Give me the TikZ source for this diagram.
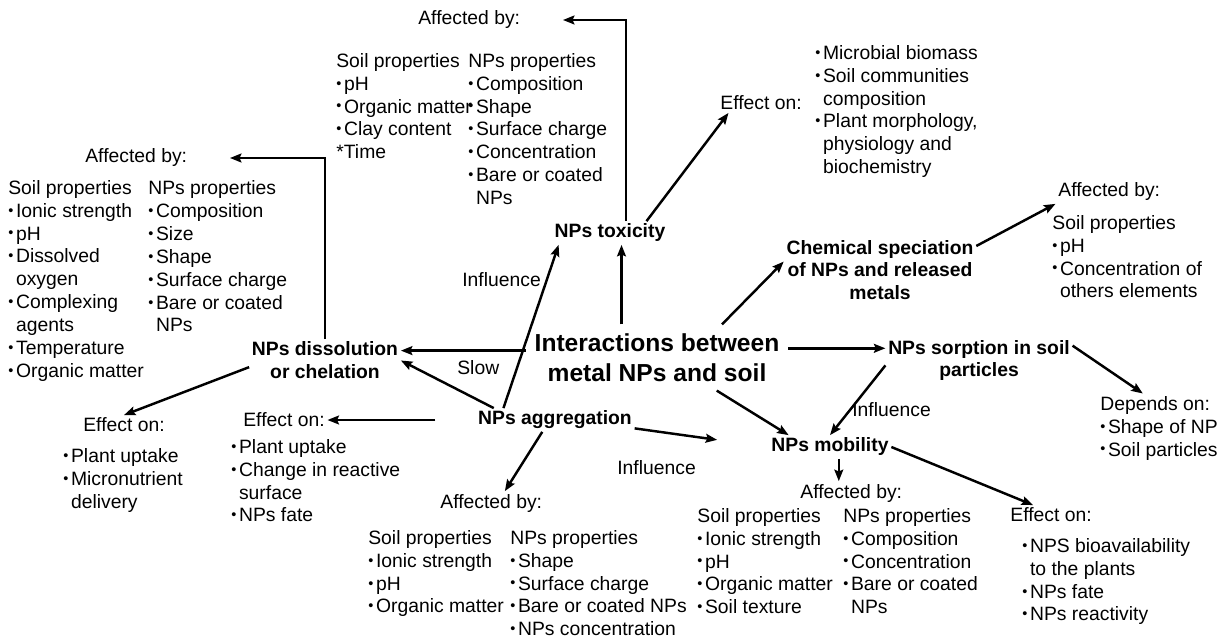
\documentclass[tikz,border=0pt]{standalone}
\usepackage{fontspec}
\setmainfont{Liberation Sans}
\usetikzlibrary{arrows.meta,calc}
\def\bl{\makebox[0.4em][l]{\raisebox{0.2ex}{\scalebox{0.75}{\textbullet}}}}
\def\ind{\hspace*{0.4em}}
\tikzset{
	arr/.style={line width=1.4pt, -{Stealth[length=6.5pt,width=5pt,inset=1pt]}},
	txt/.style={font=\fontsize{11}{13}\selectfont, inner sep=0.5mm, align=left},
	hd/.style={font=\bfseries\fontsize{11}{13}\selectfont, inner sep=0.5mm, align=center},
	hub/.style={font=\bfseries\fontsize{14}{17}\selectfont, inner sep=5pt, align=center}
}

\begin{document}
\begin{tikzpicture}[x=0.02cm, y=-0.02cm]
		%%%%% START %%%%%
		\useasboundingbox (0, 0) rectangle (1229, 638);
		
		\node[hub] (inter) at (657, 357.5) {Interactions between\\metal NPs and soil};
		
		\node[hd] (tox) at (610, 233) {NPs toxicity};
		\node[hd] (diss) at (325, 360.5) {NPs dissolution\\or chelation};
		\node[hd] (aggr) at (555, 420) {NPs aggregation};
		\node[hd] (chem) at (880, 270) {Chemical speciation\\of NPs and released\\metals};
		\node[hd] (sorp) at (979, 360.5) {NPs sorption in soil\\particles};
		\node[hd] (mob) at (830, 447) {NPs mobility};
		
		% toxicity
		\node[txt, anchor=west] (toxaff) at (415.5, 20) {Affected by:};
		\node[txt, anchor=north west] (toxsoil) at (333.5, 50.5) {Soil properties\\\bl pH\\\bl Organic matter\\\bl Clay content\\*Time};
		\node[txt, anchor=north west] (toxnps) at (465.5, 50.5) {NPs properties\\\bl Composition\\\bl Shape\\\bl Surface charge\\\bl Concentration\\\bl Bare or coated\\\ind NPs};
		\node[txt, anchor=west] (toxeff) at (717.5, 103) {Effect on:};
		\node[txt, anchor=north west] (toxlist) at (812.5, 42.5) {\bl Microbial biomass\\\bl Soil communities\\\ind composition\\\bl Plant morphology,\\\ind physiology and\\\ind biochemistry};
		
		% speciation
		\node[txt, anchor=west] (chemaff) at (1055.5, 192) {Affected by:};
		\node[txt, anchor=north west] (chemsoil) at (1049.5, 212.5) {Soil properties\\\bl pH\\\bl Concentration of\\\ind others elements};
		
		% dissolution
		\node[txt, anchor=west] (dissaff) at (82.5, 158) {Affected by:};
		\node[txt, anchor=north west] (disssoil) at (5.5, 177.5) {Soil properties\\\bl Ionic strength\\\bl pH\\\bl Dissolved\\\ind oxygen\\\bl Complexing\\\ind agents\\\bl Temperature\\\bl Organic matter};
		\node[txt, anchor=north west] (dissnps) at (145.5, 178) {NPs properties\\\bl Composition\\\bl Size\\\bl Shape\\\bl Surface charge\\\bl Bare or coated\\\ind NPs};
		\node[txt, anchor=west] (disseff) at (80.5, 425) {Effect on:};
		\node[txt, anchor=north west] (disslist) at (60.5, 445.5) {\bl Plant uptake\\\bl Micronutrient\\\ind delivery};
		
		% aggregation
		\node[txt, anchor=west] (aggreff) at (240.5, 420) {Effect on:};
		\node[txt, anchor=north west] (aggrlist) at (228.5, 436.5) {\bl Plant uptake\\\bl Change in reactive\\\ind surface\\\bl NPs fate};
		\node[txt, anchor=west] (aggraff) at (437.5, 503) {Affected by:};
		\node[txt, anchor=north west] (aggrsoil) at (365.5, 527.5) {Soil properties\\\bl Ionic strength\\\bl pH\\\bl Organic matter};
		\node[txt, anchor=north west] (aggrnps) at (507.5, 527.5) {NPs properties\\\bl Shape\\\bl Surface charge\\\bl Bare or coated NPs\\\bl NPs concentration};
		
		% mobility
		\node[txt, anchor=west] (mobaff) at (797.5, 493) {Affected by:};
		\node[txt, anchor=north west] (mobsoil) at (694.5, 505.5) {Soil properties\\\bl Ionic strength\\\bl pH\\\bl Organic matter\\\bl Soil texture};
		\node[txt, anchor=north west] (mobnps) at (840.5, 505.5) {NPs properties\\\bl Composition\\\bl Concentration\\\bl Bare or coated\\\ind NPs};
		\node[txt, anchor=west] (mobeff) at (1007.5, 515) {Effect on:};
		\node[txt, anchor=north west] (moblist) at (1019.5, 535.5) {\bl NPS bioavailability\\\ind to the plants\\\bl NPs fate\\\bl NPs reactivity};
		
		% sorption
		\node[txt, anchor=north west] (sorpdep) at (1097.5, 393.5) {Depends on:\\\bl Shape of NP\\\bl Soil particles};
		
		% arrow labels
		\node[txt, anchor=west] (inftox) at (459.5, 280) {Influence};
		\node[txt, anchor=west] (slow) at (454.5, 368) {Slow};
		\node[txt, anchor=west] (infmob) at (614.5, 468) {Influence};
		\node[txt, anchor=west] (infsorp) at (849.5, 410) {Influence};
		
		% arrows
		\draw[arr] (inter.177) -- (inter.177 -| diss.east);
		\draw[arr] (aggr.169) -- (diss.east);
		\draw[arr] (aggr.167.7) -- (tox.-167.5);
		\draw[arr] (inter.137.7) -- (inter.137.7 |- tox.south);
		\draw[arr] (inter.27.6) -- (chem.175);
		\draw[arr] (inter.4.6) -- (inter.4.6 -| sorp.west);
		\draw[arr] (inter.-29.4) -- (mob.164.7);
		\draw[arr] (sorp.183) -- (mob.north);
		\draw[arr, shorten >=1.04cm] (aggr.-6.8) -- (mob.west);
		
		\draw[arr, shorten >=8mm] (tox.37.5) |- (toxaff.east);
		\draw[arr, shorten >=8mm] (diss.north) |- (dissaff.east);
		\draw[arr] (tox.18.2) -- (toxeff.-163);
		\draw[arr] (chem.14.8) -- (chemaff.south west);
		\draw[arr] (sorp.9.4) -- (sorpdep.115);
		\draw[arr] ([xshift=5]mob.south) -- ([xshift=5]mob.south |- mobaff.north);
		\draw[arr] (mob.east) -- (mobeff.151);
		\draw[arr, shorten <=8mm] (aggr.west) -- (aggreff.east);
		\draw[arr] (aggr.-137) -- (aggraff.41.5);
		\draw[arr] (diss.185) -- (disseff.north);
		
		%%%%% END %%%%%
	\end{tikzpicture}
\end{document}
